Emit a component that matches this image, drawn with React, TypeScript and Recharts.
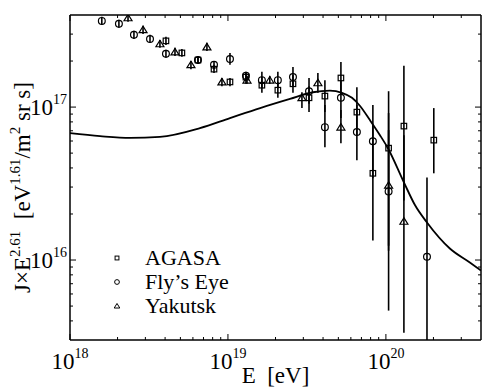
import React from 'react';
import { ComposedChart, Scatter, Line, XAxis, YAxis, ErrorBar, Legend } from 'recharts';

const FONT = '"Liberation Serif", "Times New Roman", serif';

// rows: [E (eV), J x E^2.61, lower end of bar, upper end of bar]
const agasa = [
  [4.05e18, 2.71e17, 2.55e17, 2.88e17],
  [5.11e18, 2.26e17, 2.13e17, 2.40e17],
  [6.46e18, 2.03e17, 1.91e17, 2.16e17],
  [8.16e18, 1.77e17, 1.67e17, 1.89e17],
  [1.03e19, 1.46e17, 1.37e17, 1.55e17],
  [1.30e19, 1.57e17, 1.42e17, 1.67e17],
  [1.64e19, 1.39e17, 1.24e17, 1.57e17],
  [2.07e19, 1.29e17, 1.15e17, 1.46e17],
  [2.58e19, 1.42e17, 1.24e17, 1.62e17],
  [3.26e19, 1.15e17, 9.27e16, 1.37e17],
  [4.11e19, 1.18e17, 9.27e16, 1.50e17],
  [5.19e19, 1.55e17, 1.20e17, 1.97e17],
  [6.55e19, 9.27e16, 6.55e16, 1.35e17],
  [8.27e19, 3.69e16, 1.34e16, 7.62e16],
  [1.04e20, 5.39e16, 1.24e16, 1.27e17],
  [1.30e20, 7.51e16, 2.45e16, 1.86e17],
  [2.01e20, 6.08e16, 3.69e16, 9.85e16],
];

const flysEye = [
  [1.59e18, 3.66e17, 3.45e17, 3.89e17],
  [2.04e18, 3.50e17, 3.30e17, 3.72e17],
  [2.54e18, 2.97e17, 2.79e17, 3.15e17],
  [3.21e18, 2.79e17, 2.63e17, 2.97e17],
  [4.05e18, 2.23e17, 2.10e17, 2.37e17],
  [6.46e18, 2.03e17, 1.91e17, 2.16e17],
  [8.16e18, 1.89e17, 1.77e17, 2.00e17],
  [1.03e19, 2.06e17, 1.89e17, 2.26e17],
  [1.30e19, 1.60e17, 1.48e17, 1.70e17],
  [1.64e19, 1.50e17, 1.33e17, 1.70e17],
  [2.07e19, 1.50e17, 1.33e17, 1.70e17],
  [2.58e19, 1.57e17, 1.37e17, 1.83e17],
  [3.26e19, 1.27e17, 1.05e17, 1.55e17],
  [4.11e19, 7.39e16, 5.47e16, 1.03e17],
  [5.19e19, 1.15e17, 8.47e16, 1.50e17],
  [6.55e19, 6.86e16, 4.49e16, 1.03e17],
  [8.27e19, 5.98e16, 3.42e16, 1.03e17],
  [1.04e20, 2.81e16, 4.67e15, 9.14e16],
  [1.82e20, 1.05e16, 3.0e15, 3.47e16],
];

const yakutsk = [
  [2.33e18, 3.83e17, 3.61e17, 4.0e17],
  [2.90e18, 3.20e17, 3.01e17, 3.40e17],
  [3.71e18, 2.59e17, 2.44e17, 2.75e17],
  [4.62e18, 2.29e17, 2.16e17, 2.44e17],
  [5.83e18, 1.89e17, 1.77e17, 2.00e17],
  [7.36e18, 2.47e17, 2.33e17, 2.63e17],
  [9.16e18, 1.46e17, 1.37e17, 1.55e17],
  [1.32e19, 1.50e17, 1.42e17, 1.60e17],
  [1.84e19, 1.50e17, 1.42e17, 1.60e17],
  [2.94e19, 1.15e17, 9.85e16, 1.25e17],
  [3.71e19, 1.44e17, 1.24e17, 1.67e17],
  [5.19e19, 7.39e16, 5.81e16, 9.56e16],
  [1.04e20, 3.08e16, 1.15e16, 7.07e16],
  [1.30e20, 1.79e16, 3.35e15, 6.55e16],
];

// model curve
const modelE = [1e18, 1.55e18, 2.4e18, 3.71e18, 6.65e18, 1.03e19, 1.6e19, 2.47e19, 3.45e19,
  4.42e19, 5.27e19, 6.1e19, 6.84e19, 7.92e19, 9.17e19, 1.03e20, 1.3e20, 1.53e20, 1.82e20,
  2.54e20, 3.4e20, 4e20];
const modelJ = [6.75e16, 6.46e16, 6.29e16, 6.38e16, 7.28e16, 8.47e16, 9.85e16, 1.13e17, 1.25e17,
  1.28e17, 1.24e17, 1.15e17, 1.02e17, 8.22e16, 6.55e16, 5.38e16, 3.22e16, 2.28e16, 1.76e16,
  1.19e16, 9.64e15, 8.53e15];

const xTicks = [1e18, 2e18, 3e18, 4e18, 5e18, 6e18, 7e18, 8e18, 9e18,
  1e19, 2e19, 3e19, 4e19, 5e19, 6e19, 7e19, 8e19, 9e19, 1e20, 2e20, 3e20];
const yTicks = [4e15, 5e15, 6e15, 7e15, 8e15, 9e15, 1e16, 2e16, 3e16, 4e16, 5e16, 6e16, 7e16,
  8e16, 9e16, 1e17, 2e17, 3e17];

const seriesNames = ['AGASA', 'Fly\u2019s Eye', 'Yakutsk'];
const seriesKinds = ['square', 'circle', 'triangle'];

const toPoints = (rows: number[][]) =>
  rows.map(([E, J, lo, hi]) => ({ E, J, err: [J - lo, hi - J] }));
const model = modelE.map((E, i) => ({ E, J: modelJ[i] }));

const isMajor = (v: number) => Math.abs(Math.log10(v) - Math.round(Math.log10(v))) < 1e-6;
const expOf = (v: number) => Math.round(Math.log10(v));

function Marker({ cx, cy, kind, small }: any) {
  if (cx == null || cy == null) return null;
  const k = small ? 0.7 : 1;
  const common = { fill: 'none', stroke: '#000', strokeWidth: small ? 1 : 1.2 };
  if (kind === 'square') {
    const s = 5.5 * k;
    return <rect x={cx - s / 2} y={cy - s / 2} width={s} height={s} {...common} />;
  }
  if (kind === 'circle') return <circle cx={cx} cy={cy} r={3.4 * k} {...common} />;
  const w = 4 * k;
  const h = 3.6 * k;
  return <polygon points={`${cx},${cy - h} ${cx - w},${cy + h * 0.8} ${cx + w},${cy + h * 0.8}`} {...common} />;
}

function PowLabel({ x, y, v, anchor }: any) {
  return (
    <text x={x} y={y} textAnchor={anchor} fontFamily={FONT} fontSize={23} fill="#000">
      <tspan>10</tspan>
      <tspan dy={-11} fontSize={14}>{expOf(v)}</tspan>
    </text>
  );
}

function BottomTick({ x, y, payload }: any) {
  const major = isMajor(payload.value);
  return (
    <g>
      <line x1={x} x2={x} y1={y} y2={y - (major ? 6 : 3)} stroke="#000" />
      {major && <PowLabel x={x} y={y + 29} v={payload.value} anchor="middle" />}
    </g>
  );
}

function TopTick({ x, y, payload }: any) {
  const major = isMajor(payload.value);
  return <line x1={x} x2={x} y1={y} y2={y + (major ? 6 : 3)} stroke="#000" />;
}

function LeftTick({ x, y, payload }: any) {
  const major = isMajor(payload.value);
  return (
    <g>
      <line x1={x} x2={x + (major ? 6 : 3)} y1={y} y2={y} stroke="#000" />
      {major && <PowLabel x={x - 3} y={y + 8} v={payload.value} anchor="end" />}
    </g>
  );
}

function RightTick({ x, y, payload }: any) {
  const major = isMajor(payload.value);
  return <line x1={x} x2={x - (major ? 6 : 3)} y1={y} y2={y} stroke="#000" />;
}

function XTitle({ viewBox }: any) {
  return (
    <text x={viewBox.x + viewBox.width / 2} y={viewBox.y + 43} textAnchor="middle"
      fontFamily={FONT} fontSize={23} fill="#000">
      {'E\u00A0\u00A0[eV]'}
    </text>
  );
}

function YTitle({ viewBox }: any) {
  const x = viewBox.x + 30;
  const y = viewBox.y + viewBox.height / 2 + 10;
  return (
    <text x={x} y={y} transform={`rotate(-90 ${x} ${y})`} textAnchor="middle"
      fontFamily={FONT} fontSize={23} fill="#000">
      <tspan>J×E</tspan>
      <tspan dy={-10} fontSize={15}>2.61</tspan>
      <tspan dy={10}>{'\u00A0\u00A0[eV'}</tspan>
      <tspan dy={-10} fontSize={15}>1.61</tspan>
      <tspan dy={10}>/m</tspan>
      <tspan dy={-10} fontSize={15}>2</tspan>
      <tspan dy={10}>{'\u00A0sr s]'}</tspan>
    </text>
  );
}

function LegendBox() {
  return (
    <div style={{ fontFamily: FONT, fontSize: 22, color: '#000' }}>
      {seriesNames.map((name, i) => (
        <div key={name} style={{ display: 'flex', alignItems: 'center', height: 24 }}>
          <svg width={18} height={24}>
            <Marker cx={9} cy={12} kind={seriesKinds[i]} small />
          </svg>
          <span style={{ marginLeft: 19, lineHeight: '24px', whiteSpace: 'nowrap' }}>{name}</span>
        </div>
      ))}
    </div>
  );
}

const axisLine = { stroke: '#000', strokeWidth: 1.5 };
const logX = { type: 'number' as const, scale: 'log' as const, dataKey: 'E', domain: [1e18, 4e20], allowDataOverflow: true, ticks: xTicks, interval: 0 as const, tickSize: 0, tickMargin: 0, tickLine: false, axisLine };
const logY = { type: 'number' as const, scale: 'log' as const, dataKey: 'J', domain: [3e15, 4e17], allowDataOverflow: true, ticks: yTicks, interval: 0 as const, tickSize: 0, tickMargin: 0, tickLine: false, axisLine };

export default function App() {
  const datasets = [agasa, flysEye, yakutsk].map(toPoints);
  return (
    <div style={{ position: 'absolute', left: 0, top: 0, background: '#fff' }}>
      <ComposedChart width={485} height={392} margin={{ top: 14, right: 3, bottom: 0, left: 0 }}>
        <XAxis {...logX} height={52} tick={<BottomTick />} label={{ content: <XTitle /> }} />
        <XAxis {...logX} xAxisId="top" orientation="top" height={1} tick={<TopTick />} />
        <YAxis {...logY} width={70} tick={<LeftTick />} label={{ content: <YTitle /> }} />
        <YAxis {...logY} yAxisId="right" orientation="right" width={1} tick={<RightTick />} />
        <Line data={model} dataKey="J" xAxisId="top" yAxisId="right" type="monotone" dot={false}
          stroke="#000" strokeWidth={1.8} isAnimationActive={false} legendType="none" />
        {datasets.map((pts, i) => (
          <Scatter key={seriesNames[i]} name={seriesNames[i]} data={pts} dataKey="J"
            isAnimationActive={false}
            shape={(p: any) => <Marker cx={p.cx} cy={p.cy} kind={seriesKinds[i]} />}>
            <ErrorBar dataKey="err" direction="y" width={0} stroke="#000" strokeWidth={1.6}
              isAnimationActive={false} />
          </Scatter>
        ))}
        <Legend layout="vertical" align="center" verticalAlign="middle"
          wrapperStyle={{ left: 108, top: 246, width: 'auto' }} content={() => <LegendBox />} />
      </ComposedChart>
    </div>
  );
}
